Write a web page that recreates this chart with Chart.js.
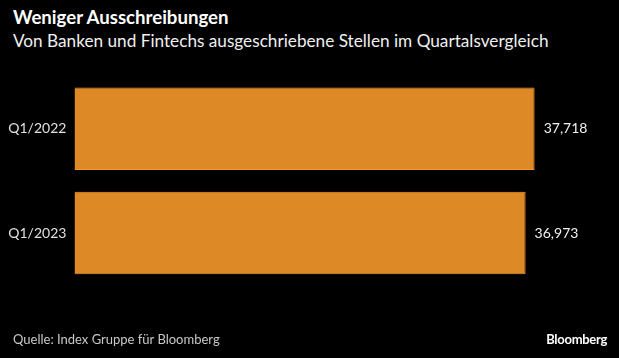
<!DOCTYPE html>
<html>
<head>
<meta charset="utf-8">
<script src="https://cdn.jsdelivr.net/npm/chart.js@4"></script>
<style>
  body { margin: 0; background: #000; }
  #wrap { position: relative; width: 619px; height: 358px; background: #000; overflow: hidden; font-family: Lato, "Noto Sans", sans-serif; }
  #title { position: absolute; left: 13px; top: 6px; color: #fff; font-weight: bold; font-size: 18.6px; }
  #subtitle { position: absolute; left: 13px; top: 30px; color: #f0f0f0; font-size: 17.2px; }
  #source { position: absolute; left: 13px; top: 331px; color: #c8c8c8; font-size: 13px; }
  #brand { position: absolute; right: 12px; top: 331px; color: #fff; font-weight: bold; font-size: 13px; letter-spacing: -0.3px; }
  canvas { position: absolute; left: 0; top: 0; }
</style>
</head>
<body>
<div id="wrap">
  <div id="title">Weniger Ausschreibungen</div>
  <div id="subtitle">Von Banken und Fintechs ausgeschriebene Stellen im Quartalsvergleich</div>
  <canvas id="chart" width="619" height="358"></canvas>
  <div id="source">Quelle: Index Gruppe für Bloomberg</div>
  <div id="brand">Bloomberg</div>
</div>
<script>
let categories = ["Q1/2022", "Q1/2023"];
let stellen = [37718, 36973];
let valueLabels = ["37,718", "36,973"];

// labels next to the end of each bar
let endLabels = {
    id: "endLabels",
    afterDatasetsDraw(chart) {
        let ctx = chart.ctx;
        let meta = chart.getDatasetMeta(0);
        ctx.save();
        ctx.font = "14px Lato, 'Noto Sans', sans-serif";
        ctx.fillStyle = "#f0f0f0";
        ctx.textBaseline = "middle";
        ctx.textAlign = "left";
        meta.data.forEach(function (bar, i) {
            ctx.fillText(valueLabels[i], bar.x + 9, bar.y);
        });
        ctx.restore();
    }
};

new Chart(document.getElementById("chart"), {
    type: "bar",
    data: {
        labels: categories,
        datasets: [{
            data: stellen,
            backgroundColor: "#dd8a26",
            borderColor: "#f2982c",
            borderWidth: 1,
            barPercentage: 0.79,
            categoryPercentage: 1
        }]
    },
    options: {
        indexAxis: "y",
        responsive: false,
        animation: false,
        layout: { padding: { top: 76.6, bottom: 72.8, right: 84.3, left: 0 } },
        plugins: { legend: { display: false }, tooltip: { enabled: false } },
        scales: {
            x: { display: false, min: 0, max: 37718 },
            y: {
                grid: { display: false },
                border: { display: false },
                afterFit(scale) { scale.width = 74.4; },
                ticks: {
                    color: "#e0e0e0",
                    padding: 0,
                    font: { family: "Lato, 'Noto Sans', sans-serif", size: 14 }
                }
            }
        }
    },
    plugins: [endLabels]
});
</script>
</body>
</html>
